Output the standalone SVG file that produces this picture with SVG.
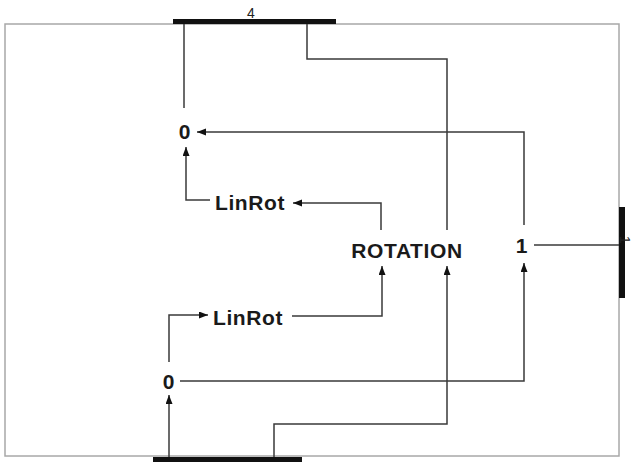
<svg xmlns="http://www.w3.org/2000/svg" width="633" height="462" viewBox="0 0 633 462">
<style>
.lbl{font-family:"Liberation Sans",Arial,sans-serif;font-weight:bold;font-size:21px;letter-spacing:0.6px;fill:#1a1a1a;text-anchor:middle}
.small{font-family:"Liberation Sans",Arial,sans-serif;font-size:14px;fill:#222;text-anchor:middle}
.bar{fill:#111}
.c{fill:none;stroke:#3a3a3a;stroke-width:1.5}
.a{marker-end:url(#ah)}
</style>
<defs>
<marker id="ah" markerUnits="userSpaceOnUse" markerWidth="10" markerHeight="8" refX="9" refY="3.5" orient="auto">
<path d="M0,0 L9,3.5 L0,7 z" fill="#111"/>
</marker>
</defs>
<rect width="633" height="462" fill="#fff"/>
<rect id="frame" x="5" y="24" width="614" height="432" fill="none" stroke="#a8a8a8" stroke-width="1.5"/>
<g id="bar-top"><rect class="bar" x="173" y="19" width="163" height="5"/><text class="small" x="251" y="18">4</text></g>
<g id="bar-right"><rect class="bar" x="619" y="207" width="6" height="91"/><text class="small" x="620" y="240" transform="rotate(90 620 240)" font-size="8">1</text></g>
<g id="bar-bottom"><rect class="bar" x="153" y="457" width="149" height="5"/></g>
<g id="connectors">
<path class="c" d="M184,24 V108"/>
<path class="c" d="M307,24 V59 H447 V230"/>
<path class="c a" d="M524,225 V132 H197"/>
<path class="c a" d="M210,200 H186 V147"/>
<path class="c a" d="M381,230 V203 H293"/>
<path class="c a" d="M292,316 H382 V266"/>
<path class="c a" d="M169,362 V315 H208"/>
<path class="c a" d="M180,381 H524 V263"/>
<path class="c" d="M534,245 H619"/>
<path class="c a" d="M169,457 V395"/>
<path class="c a" d="M274,457 V424 H447 V266"/>
</g>
<g id="zero-top"><text class="lbl" x="185" y="139">0</text></g>
<g id="linrot-top"><text class="lbl" x="250" y="210">LinRot</text></g>
<g id="rotation"><text class="lbl" x="407" y="258">ROTATION</text></g>
<g id="one"><text class="lbl" x="522" y="253">1</text></g>
<g id="linrot-bottom"><text class="lbl" x="248" y="325">LinRot</text></g>
<g id="zero-bottom"><text class="lbl" x="169" y="389">0</text></g>
</svg>
